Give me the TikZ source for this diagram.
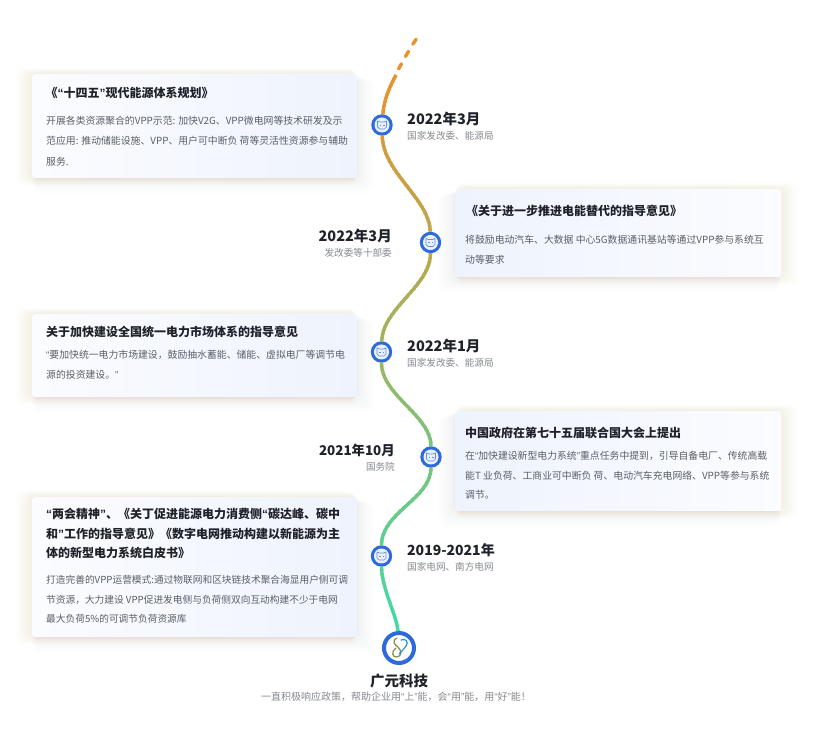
\documentclass[tikz,border=0pt]{standalone}
\usepackage{fontspec}
\setmainfont{Noto Sans CJK SC}
\newfontfamily\quotefont{Liberation Sans}
\usetikzlibrary{calc, positioning}
\definecolor{titletext}{HTML}{1F2329}
\definecolor{bodytext}{HTML}{5A5F66}
\definecolor{subtext}{HTML}{85898F}
\definecolor{dotblue}{HTML}{2F6BD8}
\definecolor{warmglow}{HTML}{F5B26B}
\definecolor{coolglow}{HTML}{7F9FDC}
\definecolor{paleL}{HTML}{FBFCFF}
\definecolor{paleB}{HTML}{EEF3FD}
\definecolor{lineA}{HTML}{E8922E}
\definecolor{lineB}{HTML}{A9B05A}
\definecolor{lineC}{HTML}{3FDBA8}
\tikzset{
    x=1pt, y=-1pt, node distance =5pt and 5pt,
    cardbox/.style ={rectangle, rounded corners=3pt, inner sep=0pt, anchor=north west},
    cardtitle/.style ={anchor=west, inner sep=0pt, font=\fontsize{12}{19.5}\selectfont\bfseries, text=titletext, align=left},
    cardbody/.style ={anchor=north west, inner sep=0pt, font=\fontsize{9.85}{19.6}\selectfont, text=bodytext, align=left},
    yearlabel/.style ={inner sep=0pt, font=\fontsize{14.5}{16}\selectfont\bfseries, text=titletext},
    sublabel/.style ={inner sep=0pt, font=\fontsize{9.6}{12}\selectfont, text=subtext},
    dot/.style ={circle, draw=dotblue, line width=3.4pt, fill=white, inner sep=0pt, minimum size=18pt},
    logodot/.style ={circle, draw=dotblue, line width=4pt, fill=white, inner sep=0pt, minimum size=30pt},
    faceline/.style ={draw=dotblue!75, line width=0.7pt, fill=dotblue!10, line join=round},
    timeline/.style ={line width=3.4pt, line cap=round}
}
\newcommand{\qo}{{\quotefont “}}
\newcommand{\qc}{{\quotefont ”}}
% card with its soft glow, warm on one side and cool on the other
\newcommand{\cardnode}[8]{
    \foreach \t in {1,...,20} {
        \pgfmathsetmacro{\s}{\t*\t/25}
        \fill[warmglow, opacity=0.007, rounded corners=8pt]
            (#2-\s*#8*0.6-\s*0.5,#3-\s*0.4) rectangle (#4-\s*#8*0.6+\s*0.5,#5+\s*0.5);
        \fill[coolglow, opacity=0.009, rounded corners=8pt]
            (#2+\s*#8*0.6-\s*0.5,#3+\s*0.4) rectangle (#4+\s*#8*0.6+\s*0.5,#5+\s*1);
    }
    \node[cardbox, minimum width=#4-#2, minimum height=#5-#3,
        left color=#6, right color=#7] (#1) at (#2,#3) {};
}
% the whole line from the first dot to the logo
\newcommand{\linepath}{
    (dash1) .. controls (389,88) and (384,100) .. (n1)
    (n1) .. controls +(1,48) and +(-1,-44) .. (n2)
    (n2) .. controls +(0,44) and +(1,-44) .. (n3)
    (n3) .. controls +(0,44) and +(0,-42) .. (n4)
    (n4) .. controls +(0,42) and +(0,-44) .. (n5)
    (n5) .. controls +(0,32) and +(-2,-32) .. (logo)
}
\begin{document}
\begin{tikzpicture}
    \useasboundingbox (0,0) rectangle (815,735);
    \fill[white] (0,0) rectangle (815,735);
    \cardnode{card1}{32}{74}{357}{178}{paleL}{paleB}{1}
    \cardnode{card2}{455}{189}{781}{277}{paleB}{paleL}{-1}
    \cardnode{card3}{32}{314}{357}{397}{paleL}{paleB}{1}
    \cardnode{card4}{455}{411}{781}{511}{paleB}{paleL}{-1}
    \cardnode{card5}{32}{497}{357}{637}{paleL}{paleB}{1}

    \node[cardtitle] (title1) at (45.5,92.5) {《\qo 十四五\qc 现代能源体系规划》};
    \node[cardbody, font=\fontsize{9.85}{20.4}\selectfont] (body1) at (46,116) {开展各类资源聚合的VPP示范: 加快V2G、VPP微电网等技术研发及示\\范应用: 推动储能设施、VPP、用户可中断负 荷等灵活性资源参与辅助\\服务.};
    \node[cardtitle] (title2) at (466,211) {《关于进一步推进电能替代的指导意见》};
    \node[cardbody] (body2) at (465,235) {将鼓励电动汽车、大数据 中心5G数据通讯基站等通过VPP参与系统互\\动等要求};
    \node[cardtitle] (title3) at (46,332) {关于加快建设全国统一电力市场体系的指导意见};
    \node[cardbody] (body3) at (46,350) {\qo 要加快统一电力市场建设，鼓励抽水蓄能、储能、虚拟电厂等调节电\\源的投资建设。\qc};
    \node[cardtitle] (title4) at (465,433) {中国政府在第七十五届联合国大会上提出};
    \node[cardbody] (body4) at (465,451) {在\qo 加快建设新型电力系统\qc 重点任务中提到，引导自备电厂、传统高载\\能T 业负荷、工商业可中断负 荷、电动汽车充电网络、VPP等参与系统\\调节。};
    \node[cardtitle] (title5) at (46,533.5) {\qo 两会精神\qc 、《关丁促进能源电力消费侧\qo 碳达峰、碳中\\和\qc 工作的指导意见》《数字电网推动构建以新能源为主\\体的新型电力系统白皮书》};
    \node[cardbody, font=\fontsize{9.7}{19.6}\selectfont] (body5) at (46,575) {打造完善的VPP运营模式:通过物联网和区块链技术聚合海显用户侧可调\\节资源，大力建设 VPP促进发电侧与负荷侧双向互动构建不少于电网\\最大负荷5\%的可调节负荷资源库};

    \node[dot] (n1) at (382,125) {};
    \node[dot] (n2) at (430.5,242.5) {};
    \node[dot] (n3) at (381.5,352) {};
    \node[dot] (n4) at (431,457) {};
    \node[dot] (n5) at (381.5,556) {};
    \node[logodot] (logo) at (399,648) {};
    \coordinate (dash1) at (396,75);
    \coordinate (dash0) at (398.5,69);
    \coordinate (dash2) at (417,38);

    % colour runs down the line in thin bands
    \foreach \b in {0,...,141} {
        \pgfmathsetmacro{\mixA}{min(100,\b*100/60)}
        \pgfmathsetmacro{\mixB}{max(0,(\b-60)*100/81)}
        \colorlet{bandcol}{lineB!\mixA!lineA}
        \ifdim\b pt>60pt \colorlet{bandcol}{lineC!\mixB!lineB}\fi
        \begin{scope}
            \clip (300,70+\b*4) rectangle (500,74.6+\b*4);
            \draw[timeline, line cap=butt, draw=bandcol] \linepath;
        \end{scope}
    }
    \draw[timeline, draw=lineA, dash pattern=on 6pt off 8.3pt] (dash0) .. controls (403,61) and (410,48) .. (dash2);

    % small face inside each dot
    \foreach \n in {n1,n2,n3,n4,n5} {
        \fill[dotblue!10] (\n) circle (7.5pt);
        \begin{scope}[shift={(\n)}]
            \draw[faceline] (-4.5,-4) -- (-2,-3) -- (2,-3) -- (4.5,-4) -- (4.5,2) -- (2.5,4) -- (-2.5,4) -- (-4.5,2) -- cycle;
            \draw[draw=dotblue!75, line width=0.6pt] (-2.5,0) -- (-1,0) (1,0) -- (2.5,0);
        \end{scope}
    }
    % logo mark
    \begin{scope}[shift={(logo)}]
        \draw[draw=lineB!80!black, line width=1.2pt, line cap=round] (-2,-10) .. controls (-8,-7) and (-4,-3) .. (-1,-1) .. controls (3,3) and (3,8) .. (-2,9) .. controls (-7,10) and (-8,3) .. (-3,0);
        \draw[draw=dotblue!70!cyan, line width=1.2pt, line cap=round] (2,-8) .. controls (7,-10) and (10,-6) .. (7,-2) .. controls (5,1) and (3,3) .. (0,6);
    \end{scope}

    \node[yearlabel, anchor=west] (year1) at (407,119) {2022年3月};
    \node[sublabel, below=5pt of year1.south west, anchor=north west] (org1) {国家发改委、能源局};
    \node[yearlabel, anchor=east] (year2) at (392,236) {2022年3月};
    \node[sublabel, below=5pt of year2.south east, anchor=north east] (org2) {发改委等十部委};
    \node[yearlabel, anchor=west] (year3) at (407,346) {2022年1月};
    \node[sublabel, below=5pt of year3.south west, anchor=north west] (org3) {国家发改委、能源局};
    \node[yearlabel, anchor=east, font=\fontsize{13.4}{16}\selectfont\bfseries] (year4) at (395,450) {2021年10月};
    \node[sublabel, below=5.5pt of year4.south east, anchor=north east] (org4) {国务院};
    \node[yearlabel, anchor=west, font=\fontsize{14}{16}\selectfont\bfseries] (year5) at (407,550) {2019-2021年};
    \node[sublabel, below=5pt of year5.south west, anchor=north west] (org5) {国家电网、南方电网};

    \node[yearlabel] (brand) at (399,681) {广元科技};
    \node[sublabel, font=\fontsize{10}{12}\selectfont] (slogan) at (396,697) {一直积极响应政策，帮助企业用\qo 上\qc 能，会\qo 用\qc 能，用\qo 好\qc 能！};
\end{tikzpicture}
\end{document}
